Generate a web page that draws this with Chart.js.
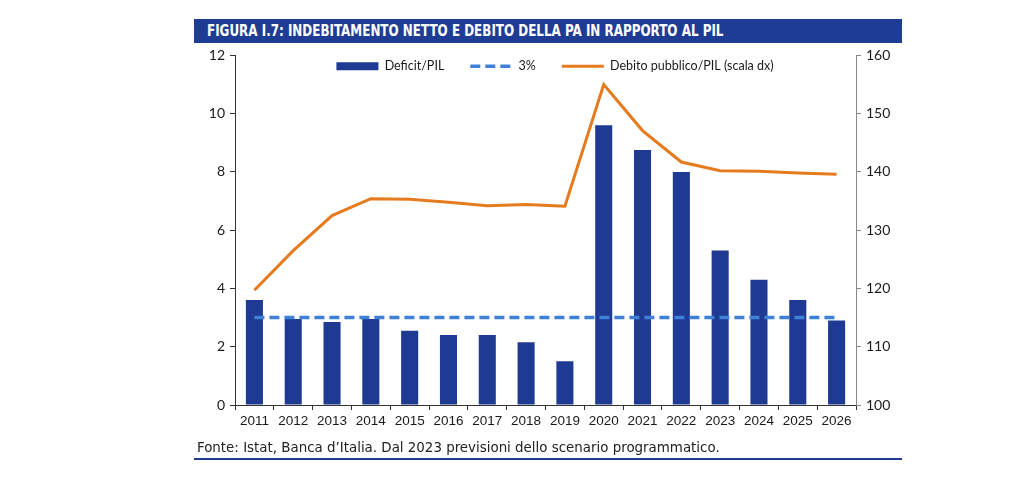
<!DOCTYPE html>
<html>
<head>
<meta charset="utf-8">
<script src="https://cdn.jsdelivr.net/npm/chart.js@4.4.0/dist/chart.umd.min.js"></script>
<style>
    body { margin: 0; background: #fff; width: 1024px; height: 486px; position: relative; overflow: hidden; }
    .banner {
        position: absolute; left: 194px; top: 19px; width: 708px; height: 24px;
        background: #1f3c94; color: #fff;
        font-family: "Liberation Sans Narrow", "DejaVu Sans Condensed", sans-serif;
        font-weight: bold; font-size: 15px; line-height: 24px;
        box-sizing: border-box; padding-left: 13px; white-space: nowrap;
    }
    .banner span { display: inline-block; transform: scaleX(0.885); transform-origin: left center; }
    .chart-box { position: absolute; left: 194px; top: 42px; width: 708px; height: 400px; }
    .source {
        position: absolute; left: 197px; top: 438px;
        font-family: "Liberation Sans Narrow", "DejaVu Sans Condensed", sans-serif;
        font-size: 14.9px; color: #222;
    }
    .rule { position: absolute; left: 194px; top: 458px; width: 708px; height: 2px; background: #1f3c94; }
</style>
</head>
<body>
<div class="banner"><span>FIGURA I.7: INDEBITAMENTO NETTO E DEBITO DELLA PA IN RAPPORTO AL PIL</span></div>
<div class="chart-box"><canvas id="debtChart" width="708" height="400"></canvas></div>
<div class="source">Fonte: Istat, Banca d’Italia. Dal 2023 previsioni dello scenario programmatico.</div>
<div class="rule"></div>

<script>
// data
const years = ["2011", "2012", "2013", "2014", "2015", "2016", "2017", "2018", "2019", "2020", "2021", "2022", "2023", "2024", "2025", "2026"];
const deficit = [3.6, 2.95, 2.85, 2.95, 2.55, 2.4, 2.4, 2.15, 1.5, 9.6, 8.75, 8.0, 5.3, 4.3, 3.6, 2.9];
const threshold = [3, 3, 3, 3, 3, 3, 3, 3, 3, 3, 3, 3, 3, 3, 3, 3];
const debt = [119.7, 126.5, 132.5, 135.4, 135.3, 134.8, 134.2, 134.4, 134.1, 155.0, 147.1, 141.7, 140.2, 140.1, 139.8, 139.6];
const leftTicks = [0, 2, 4, 6, 8, 10, 12];
const rightTicks = [100, 110, 120, 130, 140, 150, 160];

const ctx = document.getElementById('debtChart');

Chart.defaults.font.family = 'Lato, "Open Sans", sans-serif';
Chart.defaults.font.size = 14;
Chart.defaults.color = '#1a1a1a';

// legend sits inside the plot: no room in the layout, but keep a box to draw in
const legendOverlay = {
    id: 'legendOverlay',
    beforeInit(chart) {
        const fitValue = chart.legend.fit;
        chart.legend.fit = function fit() {
            fitValue.bind(chart.legend)();
            this.height = 0;
        }
    },
    afterLayout(chart) {
        chart.legend.top = -8;
        chart.legend.height = 60;
        chart.legend.bottom = chart.legend.top + 60;
        chart.legend.left += 7;
        chart.legend.right += 7;
    }
};

function legendItems(chart) {
    return chart.data.datasets.map((ds, i) => ({
        text: ds.label,
        datasetIndex: i,
        fillStyle: ds.type === 'bar' ? ds.backgroundColor : 'transparent',
        strokeStyle: ds.type === 'bar' ? ds.backgroundColor : ds.borderColor,
        lineWidth: ds.type === 'bar' ? 0 : ds.borderWidth,
        lineDash: ds.borderDash || [],
        pointStyle: ds.pointStyle,
        fontColor: '#1a1a1a',
        hidden: false
    }));
}

new Chart(ctx, {
    data: {
        labels: years,
        datasets: [{
            type: 'bar',
            label: 'Deficit/PIL',
            data: deficit,
            backgroundColor: '#1f3a93',
            barPercentage: 0.44,
            categoryPercentage: 1,
            yAxisID: 'y',
            pointStyle: 'rect',
            order: 3
        }, {
            type: 'line',
            label: '3%',
            data: threshold,
            borderColor: '#3f80d8',
            borderWidth: 3.5,
            borderDash: [10, 5],
            pointRadius: 0,
            pointStyle: 'line',
            yAxisID: 'y',
            order: 2
        }, {
            type: 'line',
            label: 'Debito pubblico/PIL (scala dx)',
            data: debt,
            borderColor: '#e57b1e',
            borderWidth: 3,
            pointRadius: 0,
            pointStyle: 'line',
            tension: 0,
            yAxisID: 'y1',
            order: 1
        }]
    },
    options: {
        responsive: false,
        animation: false,
        layout: { padding: { top: 10, left: 0, right: 0, bottom: 0 } },
        plugins: {
            legend: {
                position: 'top',
                labels: {
                    usePointStyle: true,
                    pointStyleWidth: 42,
                    boxWidth: 42,
                    boxHeight: 8,
                    padding: 26,
                    font: { size: 12.5 },
                    generateLabels: legendItems
                }
            },
            tooltip: { enabled: false }
        },
        scales: {
            x: {
                offset: true,
                grid: { offset: true, drawOnChartArea: false, tickLength: 5, color: '#333' },
                border: { color: '#333' },
                ticks: {
                    font: { family: '"Liberation Sans Narrow", sans-serif', size: 13.5 },
                    maxRotation: 0, padding: 3
                },
                afterFit(scale) { scale.height = 37; }
            },
            y: {
                position: 'left',
                min: 0, max: 12,
                afterBuildTicks(scale) { scale.ticks = leftTicks.map(v => ({ value: v })); },
                grid: { drawOnChartArea: false, tickLength: 5, color: '#333' },
                border: { color: '#333' },
                ticks: { padding: 5 },
                afterFit(scale) { scale.width = 41; }
            },
            y1: {
                position: 'right',
                min: 100, max: 160,
                afterBuildTicks(scale) { scale.ticks = rightTicks.map(v => ({ value: v })); },
                grid: { drawOnChartArea: false, tickLength: 5, color: '#888' },
                border: { color: '#888' },
                ticks: { padding: 5 },
                afterFit(scale) { scale.width = 46; }
            }
        }
    },
    plugins: [legendOverlay]
});
</script>
</body>
</html>
